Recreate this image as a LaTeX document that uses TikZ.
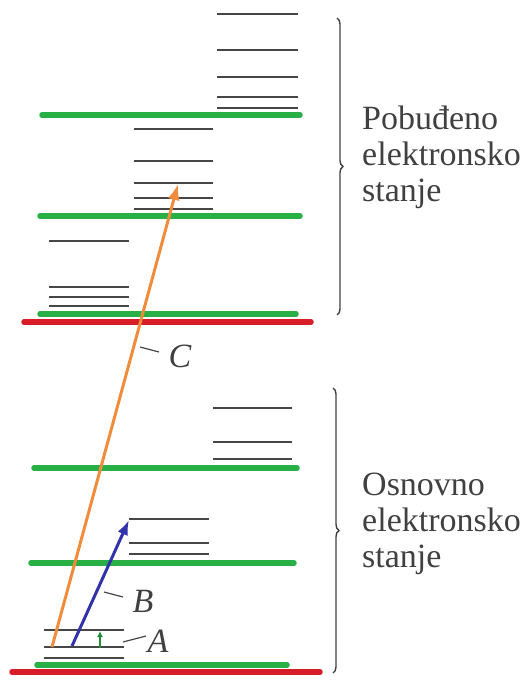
\documentclass[tikz,border=0pt]{standalone}
\usepackage{fontspec}
\setmainfont{Liberation Serif}
\usetikzlibrary{decorations.pathreplacing,arrows.meta}
\definecolor{lvgreen}{RGB}{40,175,70}
\definecolor{lvred}{RGB}{215,30,40}
\definecolor{lvorange}{RGB}{240,140,60}
\definecolor{lvblue}{RGB}{50,50,170}
\definecolor{lvgrey}{RGB}{70,70,70}
\begin{document}
\begin{tikzpicture}[x=1pt,y=-1pt,
  vib/.style={draw=lvgrey,line width=2.3pt},
  elec/.style={draw=lvgreen,line width=5.5pt,line cap=round},
  base/.style={draw=lvred,line width=5.5pt,line cap=round},
  lead/.style={draw=lvgrey,line width=1.2pt},
  lbl/.style={font=\fontsize{34}{36}\selectfont\itshape,inner sep=0pt,text=black!75},
  txt/.style={font=\fontsize{34}{36}\selectfont,align=left,inner sep=0pt,anchor=west,text=black!75},
  br/.style={draw=black!75,line width=1.4pt,decorate,decoration={brace,amplitude=6pt}}]
\useasboundingbox (0,0) rectangle (528,684);

% ---------- excited electronic state ----------
\foreach \y in {14,50,77,97,108} \draw[vib] (217,\y) -- (298,\y);
\draw[elec] (42,115) -- (300,115);
\foreach \y in {129,161,183,198,209} \draw[vib] (134,\y) -- (213,\y);
\draw[elec] (40,216) -- (300,216);
\foreach \y in {241,287,297,306} \draw[vib] (49,\y) -- (129,\y);
\draw[elec] (40,314) -- (296,314);
\draw[base] (24,322) -- (311,322);

% ---------- ground electronic state ----------
\foreach \y in {408,442,459} \draw[vib] (213,\y) -- (292,\y);
\draw[elec] (34,468) -- (297,468);
\foreach \y in {519,543,554} \draw[vib] (129,\y) -- (209,\y);
\draw[elec] (31,563) -- (294,563);
\foreach \y in {630,647,658} \draw[vib] (44,\y) -- (124,\y);
\draw[elec] (37,665) -- (287,665);
\draw[base] (12,672) -- (320,672);

% ---------- transitions ----------
\coordinate (c0) at (52,647);
\coordinate (c1) at (178,184);
\coordinate (b0) at (72,646);
\coordinate (b1) at (129,520);
\coordinate (a0) at (100,648);
\coordinate (a1) at (100,631);
\draw[lvorange,line width=3pt,-{Latex[length=16pt,width=12pt]}] (c0) -- (c1);
\draw[lvblue,line width=3pt,-{Latex[length=15pt,width=11pt]}] (b0) -- (b1);
\draw[lvgreen!80!black,line width=1.5pt,-{Latex[length=6pt,width=6pt]}] (a0) -- (a1);

% ---------- labels ----------
\node[lbl] (C) at (180,356) {C};
\node[lbl] (B) at (143,601) {B};
\node[lbl] (A) at (158,641) {A};
\coordinate (cl0) at (140,347); \coordinate (cl1) at (159,352);
\coordinate (bl0) at (104,592); \coordinate (bl1) at (123,597);
\coordinate (al0) at (123,642); \coordinate (al1) at (146,636);
\draw[lead] (cl0) -- (cl1);
\draw[lead] (bl0) -- (bl1);
\draw[lead] (al0) -- (al1);

% ---------- braces and state names ----------
\coordinate (u0) at (337,18); \coordinate (u1) at (337,315);
\coordinate (l0) at (333,388); \coordinate (l1) at (333,673);
\draw[br] (u0) -- (u1);
\draw[br] (l0) -- (l1);
\node[txt] (exc) at (362,157) {Pobuđeno\\elektronsko\\stanje};
\node[txt] (gnd) at (362,524) {Osnovno\\elektronsko\\stanje};
\end{tikzpicture}
\end{document}
